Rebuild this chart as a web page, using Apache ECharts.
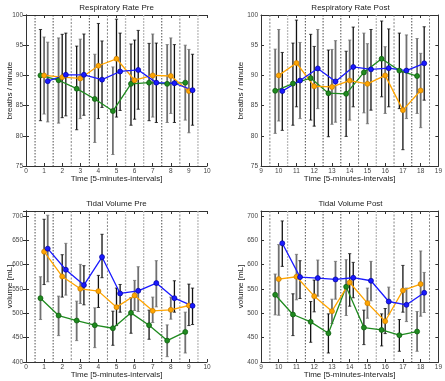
<!DOCTYPE html>
<html><head><meta charset="utf-8">
<script src="https://cdn.jsdelivr.net/npm/echarts@6/dist/echarts.min.js"></script>
<style>html,body{margin:0;padding:0;background:#fff}#c{width:445px;height:381px}</style>
</head><body><div id="c"></div>
<script>
// ---------- data ----------
const preTimes  = [1, 2, 3, 4, 5, 6, 7, 8, 9];
const postTimes = [10, 11, 12, 13, 14, 15, 16, 17, 18];
const vlinesPre  = [0.5, 1.5, 2.5, 3.5, 4.5, 5.5, 6.5, 7.5, 8.5, 9.5];
const vlinesPost = [9.5, 10.5, 11.5, 12.5, 13.5, 14.5, 15.5, 16.5, 17.5, 18.5];

const titles = ['Respiratory Rate Pre', 'Respiratory Rate Post', 'Tidal Volume Pre', 'Tidal Volume Post'];
const xName = 'Time [5-minutes-intervals]';
const yNames = ['breaths / minute', 'breaths / minute', 'volume [mL]', 'volume [mL]'];

// Respiratory rate pre
const rrPreGreen     = [90.0, 89.2, 87.8, 86.1, 84.1, 88.6, 88.8, 88.6, 88.8];
const rrPreGreenLo   = [82.5, 82.1, 81.0, 78.9, 76.9, 81.75, 82.5, 82.2, 82.6];
const rrPreGreenHi   = [97.6, 96.2, 94.85, 93.5, 91.4, 95.2, 95.3, 95.1, 95.0];
const rrPreOrange    = [90.0, 89.7, 89.5, 91.6, 92.75, 89.2, 90.0, 89.9, 87.4];
const rrPreOrangeLo  = [83.6, 83.0, 82.85, 82.85, 83.1, 82.75, 83.1, 83.7, 80.5];
const rrPreOrangeHi  = [96.35, 96.8, 96.0, 98.6, 99.3, 95.85, 96.85, 96.2, 94.3];
const rrPreBlue      = [89.05, 90.1, 90.1, 89.3, 90.65, 90.9, 88.8, 88.7, 87.55];
const rrPreBlueLo    = [82.3, 83.3, 83.4, 84.7, 84.2, 84.4, 82.2, 82.2, 81.75];
const rrPreBlueHi    = [95.5, 97.0, 96.85, 95.7, 97.0, 97.45, 95.35, 95.1, 93.5];

// Respiratory rate post
const rrPostGreen    = [87.45, 88.65, 89.55, 87.05, 86.95, 90.5, 92.75, 90.8, 89.9];
const rrPostGreenLo  = [80.4, 81.75, 82.6, 79.85, 79.9, 83.8, 86.45, 84.5, 83.7];
const rrPostGreenHi  = [94.35, 95.35, 96.8, 94.2, 94.0, 97.0, 99.0, 97.0, 96.1];
const rrPostOrange   = [90.0, 92.05, 88.2, 88.1, 89.15, 88.6, 90.0, 84.25, 87.5];
const rrPostOrangeLo = [82.45, 84.8, 81.6, 81.9, 82.6, 82.0, 83.7, 77.7, 81.35];
const rrPostOrangeHi = [97.6, 99.15, 94.8, 94.3, 95.85, 95.25, 94.75, 90.6, 93.65];
const rrPostBlue     = [87.4, 89.15, 91.15, 89.0, 91.4, 91.0, 91.2, 90.8, 92.0];
const rrPostBlueLo   = [80.9, 82.85, 84.5, 82.25, 84.8, 84.25, 84.8, 82.85, 85.9];
const rrPostBlueHi   = [93.8, 95.45, 97.6, 95.75, 98.0, 97.6, 97.7, 96.7, 98.05];

// Tidal volume pre
const tvPreGreen     = [531, 495.4, 485.1, 475.5, 469.3, 500.9, 475.5, 443.9, 461.8];
const tvPreGreenLo   = [487.2, 454.2, 443.9, 429.5, 434.3, 459.0, 446.7, 411, 418.5];
const tvPreGreenHi   = [575, 535.2, 524.9, 511.2, 504.3, 531.8, 506.4, 476.2, 502.3];
const tvPreOrange    = [626.5, 575.7, 550.3, 545.5, 512.6, 536.6, 505.0, 507.1, 516];
const tvPreOrangeLo  = [559, 533.2, 520.1, 511.9, 474.8, 505.7, 481, 487.9, 474.8];
const tvPreOrangeHi  = [693, 620.3, 600.4, 577.8, 551.7, 567.5, 533.2, 533.2, 559.9];
const tvPreBlue      = [632.7, 589.4, 557.9, 615.5, 540.7, 546.2, 562, 531.1, 515.3];
const tvPreBlueLo    = [564.7, 537.3, 517.4, 573.0, 502.3, 503.6, 513.2, 502.3, 476.9];
const tvPreBlueHi    = [701.3, 643.6, 597.7, 662.2, 559.2, 595.6, 608, 566.8, 551.7];

// Tidal volume post
const tvPostGreen    = [538, 497.5, 482.4, 459, 554.4, 470.7, 465.9, 455, 462.5];
const tvPostGreenLo  = [496.8, 454.2, 440.5, 418.5, 495.4, 435.7, 433, 422, 422];
const tvPostGreenHi  = [580.5, 540, 524.2, 498.8, 610, 506.4, 498.8, 487.2, 503.6];
const tvPostOrange   = [570.2, 575, 535.2, 504.3, 563.3, 520.8, 483.7, 546.9, 559.9];
const tvPostOrangeLo = [496, 527.7, 503, 479, 514.6, 489.9, 458.3, 502.3, 494];
const tvPostOrangeHi = [641, 621, 568.2, 529, 622.4, 551.7, 509.8, 598.3, 627.9];
const tvPostBlue     = [643.7, 574.3, 572.3, 569.5, 573, 566.8, 524.2, 517.4, 542.1];
const tvPostBlueLo   = [596.3, 530.4, 535.2, 529.0, 531.8, 525.6, 498.1, 483, 501.6];
const tvPostBlueHi   = [689.6, 608, 609.3, 606.6, 604.5, 606.6, 553.7, 551.7, 583.9];

// ---------- styles (kept apart from data) ----------
const errShade = [
  { g: 'kgkggkkgg', o: 'gkgkkkggg', b: 'gkkkkkkkk' },
  { g: 'gkkkkgkkg', o: 'gkkggggkg', b: 'kgggkkkgk' },
  { g: 'ggggkkkgg', o: 'kkgkkgggk', b: 'ggkkkggkk' },
  { g: 'gkkkgkkkg', o: 'ggkgkgkkg', b: 'kkggkgggg' }
];
const vShadePre  = 'kkgkgllkgl';
const vShadePost = 'glkkkglgkg';
const COL = {
  g: { c: '#1f8a1f', b: '#0d5a0d' },
  o: { c: '#ffa500', b: '#c47a00' },
  b: { c: '#1a1aff', b: '#0000a0' }
};
const FONT = 'Liberation Sans, Arial, sans-serif';

const panels = [
  { times: preTimes, vl: vlinesPre, vs: vShadePre, xmin: 0, xmax: 10, ymin: 75, ymax: 100, yint: 5,
    g: [rrPreGreen, rrPreGreenLo, rrPreGreenHi], o: [rrPreOrange, rrPreOrangeLo, rrPreOrangeHi], b: [rrPreBlue, rrPreBlueLo, rrPreBlueHi] },
  { times: postTimes, vl: vlinesPost, vs: vShadePost, xmin: 9, xmax: 19, ymin: 75, ymax: 100, yint: 5,
    g: [rrPostGreen, rrPostGreenLo, rrPostGreenHi], o: [rrPostOrange, rrPostOrangeLo, rrPostOrangeHi], b: [rrPostBlue, rrPostBlueLo, rrPostBlueHi] },
  { times: preTimes, vl: vlinesPre, vs: vShadePre, xmin: 0, xmax: 10, ymin: 400, ymax: 710, yint: 50,
    g: [tvPreGreen, tvPreGreenLo, tvPreGreenHi], o: [tvPreOrange, tvPreOrangeLo, tvPreOrangeHi], b: [tvPreBlue, tvPreBlueLo, tvPreBlueHi] },
  { times: postTimes, vl: vlinesPost, vs: vShadePost, xmin: 9, xmax: 19, ymin: 400, ymax: 710, yint: 50,
    g: [tvPostGreen, tvPostGreenLo, tvPostGreenHi], o: [tvPostOrange, tvPostOrangeLo, tvPostOrangeHi], b: [tvPostBlue, tvPostBlueLo, tvPostBlueHi] }
];
const gridPos = [
  { left: 26, top: 15, width: 181, height: 151 },
  { left: 261, top: 15, width: 179, height: 151 },
  { left: 26, top: 211, width: 181, height: 151 },
  { left: 261, top: 211, width: 179, height: 151 }
];
const offsets = { g: -0.2, o: 0, b: 0.2 };

const grid = [], xAxis = [], yAxis = [], series = [], title = [];
const axisLineStyle = { lineStyle: { color: '#333', width: 1 } };
const tickStyle = { show: true, inside: true, length: 3, lineStyle: { color: '#333', width: 1 } };

panels.forEach((p, i) => {
  grid.push(Object.assign({ show: false }, gridPos[i]));
  title.push({
    text: titles[i], left: gridPos[i].left + gridPos[i].width / 2, top: gridPos[i].top - 11,
    textAlign: 'center', padding: 0,
    textStyle: { fontSize: 8, fontWeight: 'normal', color: '#222', fontFamily: FONT }
  });
  const yName = yNames[i];
  xAxis.push({
    type: 'value', gridIndex: i, position: 'bottom', min: p.xmin, max: p.xmax, interval: 1,
    name: xName, nameLocation: 'middle', nameGap: 9, nameMoveOverlap: false,
    nameTextStyle: { fontSize: 8, color: '#222', fontFamily: FONT },
    axisLine: axisLineStyle, axisTick: tickStyle, splitLine: { show: false },
    axisLabel: { fontSize: 6.5, color: '#444', margin: 2, fontFamily: FONT }
  });
  xAxis.push({
    type: 'value', gridIndex: i, position: 'top', min: p.xmin, max: p.xmax, interval: 1,
    axisLine: axisLineStyle, axisTick: tickStyle, splitLine: { show: false }, axisLabel: { show: false }
  });
  yAxis.push({
    type: 'value', gridIndex: i, position: 'left', min: p.ymin, max: p.ymax, interval: p.yint,
    name: yName, nameLocation: 'middle', nameGap: (i % 2 === 0) ? 12 : 16, nameMoveOverlap: false,
    nameTextStyle: { fontSize: 8, color: '#222', fontFamily: FONT },
    axisLine: axisLineStyle, axisTick: tickStyle, splitLine: { show: false },
    axisLabel: { fontSize: 6.5, color: '#444', margin: 3, fontFamily: FONT, showMaxLabel: p.ymax % p.yint === 0,
      formatter: v => (v % p.yint === 0 ? String(v) : '') }
  });
  yAxis.push({
    type: 'value', gridIndex: i, position: 'right', min: p.ymin, max: p.ymax, interval: p.yint,
    axisLine: axisLineStyle, axisTick: tickStyle, splitLine: { show: false }, axisLabel: { show: false }
  });
  const xi = 2 * i, yi = 2 * i;

  // vertical separator lines
  series.push({
    type: 'custom', xAxisIndex: xi, yAxisIndex: yi, silent: true, z: 1,
    data: p.vl.map(v => [v, p.ymin]),
    renderItem: (params, api) => {
      const x = api.coord([api.value(0), api.value(1)])[0];
      const cs = params.coordSys;
      const s = p.vs[params.dataIndex];
      const st = s === 'k' ? { stroke: '#222', lineWidth: 0.8, lineDash: [1.5, 1.5] }
               : s === 'g' ? { stroke: '#777', lineWidth: 0.9, lineDash: [2, 1.5] }
               : { stroke: '#bbb', lineWidth: 1.3, lineDash: [2, 1] };
      return { type: 'line', shape: { x1: x, y1: cs.y, x2: x, y2: cs.y + cs.height }, style: st };
    }
  });

  ['g', 'o', 'b'].forEach(k => {
    const [vals, lo, hi] = p[k];
    const shade = errShade[i][k];
    series.push({
      type: 'custom', xAxisIndex: xi, yAxisIndex: yi, silent: true, z: 2,
      data: p.times.map((t, j) => [t + offsets[k], lo[j], hi[j]]),
      renderItem: (params, api) => {
        const x = api.value(0);
        const a = api.coord([x, api.value(1)]), b = api.coord([x, api.value(2)]);
        const dark = shade[params.dataIndex] === 'k';
        const st = { stroke: dark ? '#111' : '#707070', lineWidth: dark ? 1.3 : 1.8 };
        const cap = 1.6;
        return { type: 'group', children: [
          { type: 'line', shape: { x1: a[0], y1: a[1], x2: b[0], y2: b[1] }, style: st },
          { type: 'line', shape: { x1: a[0] - cap, y1: a[1], x2: a[0] + cap, y2: a[1] }, style: { stroke: st.stroke, lineWidth: 0.8 } },
          { type: 'line', shape: { x1: b[0] - cap, y1: b[1], x2: b[0] + cap, y2: b[1] }, style: { stroke: st.stroke, lineWidth: 0.8 } }
        ] };
      }
    });
  });
  ['g', 'o', 'b'].forEach(k => {
    const vals = p[k][0];
    series.push({
      type: 'line', xAxisIndex: xi, yAxisIndex: yi, z: 5, silent: true, animation: false,
      data: p.times.map((t, j) => [t + offsets[k], vals[j]]),
      symbol: 'circle', symbolSize: 5, showSymbol: true,
      lineStyle: { color: COL[k].c, width: 1.3 },
      itemStyle: { color: COL[k].c, borderColor: COL[k].b, borderWidth: 0.7 }
    });
  });
});

const chart = echarts.init(document.getElementById('c'), null, { renderer: 'canvas' });
chart.setOption({ animation: false, backgroundColor: '#fff', title, grid, xAxis, yAxis, series });
</script></body></html>
